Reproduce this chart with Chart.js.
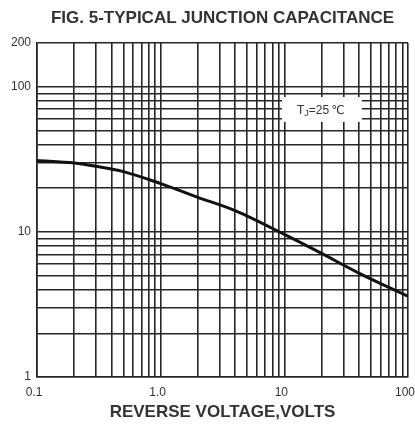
<!DOCTYPE html>
<html>
<head>
<meta charset="utf-8">
<script src="https://cdn.jsdelivr.net/npm/chart.js@4.4.1/dist/chart.umd.min.js"></script>
<style>
    html, body { margin: 0; padding: 0; background: #ffffff; }
    #wrap { width: 415px; height: 426px; position: relative; }
</style>
</head>
<body>
<div id="wrap"><canvas id="chart"></canvas></div>
<script>
// Reverse voltage (V) vs junction capacitance (pF)
const voltage = [0.1, 0.2, 0.3, 0.5, 1, 2, 4, 10, 20, 40, 100];
const capacitance = [31, 29.8, 28.3, 26, 21.5, 17.3, 14, 9.6, 7.1, 5.2, 3.6];

// grid lines (every minor decade step) and the labelled ones
const xTicks = [0.1, 0.2, 0.3, 0.4, 0.5, 0.6, 0.7, 0.8, 0.9, 1, 2, 3, 4, 5, 6, 7, 8, 9, 10, 20, 30, 40, 50, 60, 70, 80, 90, 100];
const xTickValues = [0.1, 1, 10, 100];
const xTickLabels = ["0.1", "1.0", "10", "100"];
const yTicks = [1, 2, 3, 4, 5, 6, 7, 8, 9, 10, 20, 30, 40, 50, 60, 70, 80, 90, 100, 200];
const yTickValues = [1, 10, 100, 200];
const yTickLabels = ["1", "10", "100", "200"];

const FONT = '"Liberation Sans", Arial, Helvetica, sans-serif';
const GRID = "#262626";
const TEXT = "#333333";

function labelFor(value, values, labels) {
    const index = values.findIndex((v) => Math.abs(v - value) < 1e-9);
    return index >= 0 ? labels[index] : "";
}

const figurePlugin = {
    id: "figureText",
    afterDraw(chart) {
        const { ctx, chartArea } = chart;
        ctx.save();
        // title, centred over the plot area
        ctx.font = `bold 17px ${FONT}`;
        ctx.fillStyle = TEXT;
        ctx.textAlign = "center";
        ctx.textBaseline = "middle";
        ctx.fillText("FIG. 5-TYPICAL JUNCTION CAPACITANCE", (chartArea.left + chartArea.right) / 2, 18);

        // TJ=25℃ note on a white patch
        const boxX = chartArea.left + 245;
        const boxY = chartArea.top + 54;
        ctx.fillStyle = "#ffffff";
        ctx.fillRect(boxX, boxY, 80, 25);
        ctx.fillStyle = TEXT;
        ctx.textAlign = "left";
        ctx.textBaseline = "alphabetic";
        let x = boxX + 15;
        const base = boxY + 17;
        ctx.font = `12px ${FONT}`;
        ctx.fillText("T", x, base);
        x += ctx.measureText("T").width;
        ctx.font = `9px ${FONT}`;
        ctx.fillText("J", x, base + 2);
        x += ctx.measureText("J").width;
        ctx.font = `12px ${FONT}`;
        ctx.fillText("=25", x, base);
        x += ctx.measureText("=25").width + 2;
        ctx.font = `12px "DejaVu Sans", ${FONT}`;
        ctx.fillText("\u2103", x, base);
        ctx.restore();
    },
};

new Chart(document.getElementById("chart"), {
    type: "line",
    data: {
        datasets: [
            {
                data: voltage.map((v, i) => ({ x: v, y: capacitance[i] })),
                borderColor: "#111111",
                borderWidth: 3,
                pointRadius: 0,
                cubicInterpolationMode: "monotone",
                fill: false,
            },
        ],
    },
    options: {
        responsive: true,
        maintainAspectRatio: false,
        animation: false,
        layout: { padding: { top: 43, right: 7, bottom: 0, left: 0 } },
        plugins: {
            legend: { display: false },
            tooltip: { enabled: false },
            title: { display: false },
        },
        scales: {
            x: {
                type: "logarithmic",
                min: 0.1,
                max: 100,
                afterBuildTicks: (scale) => {
                    scale.ticks = xTicks.map((value) => ({ value }));
                },
                afterFit: (scale) => {
                    scale.height = 49;
                    scale.paddingLeft = 0;
                    scale.paddingRight = 0;
                },
                grid: { color: GRID, lineWidth: 1.6, drawTicks: false },
                border: { color: GRID, width: 1.6 },
                ticks: {
                    autoSkip: false,
                    maxRotation: 0,
                    padding: 8,
                    labelOffset: -3,
                    color: TEXT,
                    font: { family: FONT, size: 12 },
                    callback: (value) => labelFor(value, xTickValues, xTickLabels),
                },
                title: {
                    display: true,
                    text: "REVERSE VOLTAGE,VOLTS",
                    color: TEXT,
                    font: { family: FONT, size: 17, weight: "bold" },
                    padding: { top: 0, bottom: 3 },
                },
            },
            y: {
                type: "logarithmic",
                min: 1,
                max: 200,
                afterBuildTicks: (scale) => {
                    scale.ticks = yTicks.map((value) => ({ value }));
                },
                afterFit: (scale) => {
                    scale.width = 37;
                    scale.paddingTop = 0;
                    scale.paddingBottom = 0;
                },
                grid: { color: GRID, lineWidth: 1.6, drawTicks: false },
                border: { color: GRID, width: 1.6 },
                ticks: {
                    autoSkip: false,
                    padding: 6,
                    color: TEXT,
                    font: { family: FONT, size: 12 },
                    callback: (value) => labelFor(value, yTickValues, yTickLabels),
                },
            },
        },
    },
    plugins: [figurePlugin],
});
</script>
</body>
</html>
